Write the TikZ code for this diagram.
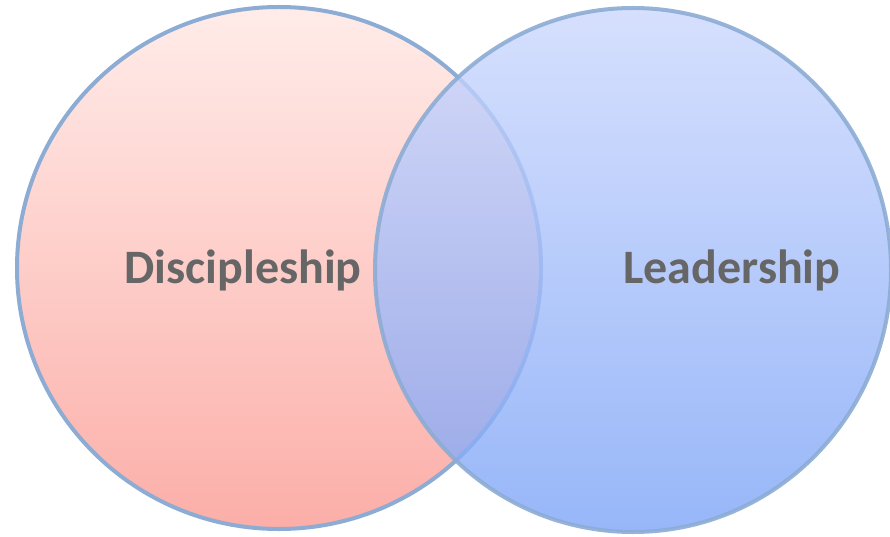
\documentclass[tikz,border=0pt]{standalone}
\usepackage{fontspec}
\setmainfont{Carlito}
\usetikzlibrary{shapes.geometric}
\definecolor{ringblue}{HTML}{8CACD4}
\definecolor{pinktop}{HTML}{FFECE9}
\definecolor{pinkbot}{HTML}{FCAEA8}
\definecolor{bluetop}{HTML}{CCD8FD}
\definecolor{bluebot}{HTML}{7DA4F7}
\definecolor{labelgray}{HTML}{666666}
\tikzset{
  setring/.style={ellipse, inner sep=0pt, draw=ringblue, line width=4pt},
  setlabel/.style={text=labelgray, font=\fontsize{48}{54}\selectfont\bfseries, anchor=base, inner sep=0pt}
}
\begin{document}
\begin{tikzpicture}[x=1pt,y=1pt]
  \useasboundingbox (0,0) rectangle (890,536);
  % left set
  \node[setring, minimum width=524pt, minimum height=522pt,
        top color=pinktop, bottom color=pinkbot] (disc) at (279,268) {};
  % right set, translucent over the left one
  \node[setring, minimum width=516pt, minimum height=524pt,
        top color=bluetop, bottom color=bluebot, fill opacity=0.8, draw opacity=0.9] (lead) at (633,266) {};
  \node[setlabel] (disclabel) at (243,253) {Discipleship};
  \node[setlabel] (leadlabel) at (732,253) {Leadership};
\end{tikzpicture}
\end{document}
